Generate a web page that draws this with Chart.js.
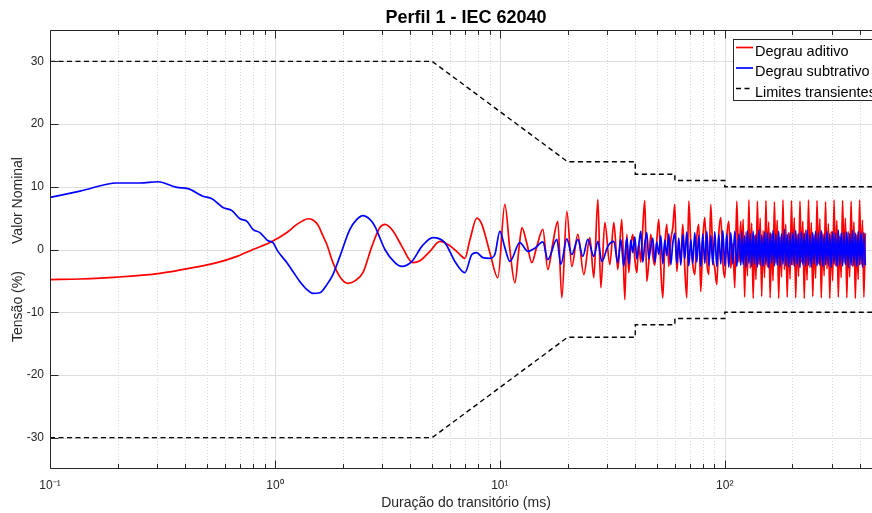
<!DOCTYPE html>
<html>
<head>
<meta charset="utf-8">
<script src="https://cdn.jsdelivr.net/npm/chart.js@4.4.0/dist/chart.umd.min.js"></script>
<style>
  html, body { margin: 0; padding: 0; background: #fff; width: 872px; height: 513px; overflow: hidden; }
  canvas { display: block; }
</style>
</head>
<body>
<canvas id="grafico" width="890" height="513"></canvas>
<script>
// Resposta ao degrau aditivo (tensão de saída, % do valor nominal)
const tAditivo = [0.1, 0.136, 0.2, 0.308, 0.432, 0.552, 0.678, 0.798, 0.95, 1.131,
  1.252, 1.332, 1.402, 1.475, 1.553, 1.634, 1.702, 1.811, 1.965, 2.11,
  2.268, 2.461, 2.698, 2.929, 3.083, 3.345, 3.668, 4.106, 4.41, 4.886,
  5.412, 5.995, 6.507, 6.988, 7.356, 7.9, 8.318, 9.03, 9.797, 10.525,
  11.08, 11.66, 12.15, 12.53, 13.18, 13.87, 14.6, 15.53, 16.34, 17.2,
  18.1, 18.86, 19.85, 20.89, 22.22, 23.62, 25.12, 26.17, 27.27, 28.11,
  29.29, 30.83, 32.12, 33.45, 34.85, 35.94];
const vAditivo = [-4.8, -4.7, -4.4, -3.8, -2.9, -2.1, -1.1, 0.0, 1.1, 2.7,
  4.0, 4.6, 4.9, 4.7, 3.9, 2.2, 0.8, -2.1, -4.6, -5.4,
  -5.0, -3.7, 0.5, 3.5, 4.0, 3.0, 0.5, -2.1, -1.8, -0.3,
  1.3, 0.6, -0.5, -1.4, 1.5, 5.0, 4.0, -0.5, -4.5, 7.2,
  0.0, -5.3, 0.0, 3.5, 1.0, -2.1, 0.5, 3.2, -3.2, 1.0,
  4.5, -7.7, 6.1, -2.7, 2.4, -4.0, 1.9, -4.5, 8.0, -6.1,
  4.3, -2.4, 4.3, -3.2, 4.8, -8.0];

// Resposta ao degrau subtrativo
const tSubtrativo = [0.1, 0.136, 0.1985, 0.251, 0.302, 0.3667, 0.4105, 0.4786, 0.5248, 0.5873,
  0.644, 0.6991, 0.7509, 0.798, 0.8577, 0.931, 0.9797, 1.031, 1.131, 1.202,
  1.29, 1.388, 1.475, 1.585, 1.702, 1.811, 1.945, 2.154, 2.314, 2.461,
  2.644, 2.783, 3.083, 3.415, 3.668, 4.064, 4.5, 5.037, 5.695, 6.31,
  6.988, 7.506, 7.876, 8.404, 9.03, 9.5, 10.0, 10.525, 11.08, 12.27,
  13.32, 14.31, 15.53, 16.34, 17.92, 18.67, 19.85, 20.89, 22.22, 23.38,
  24.61, 26.17, 27.27, 28.4, 30.2, 32.12, 33.45, 34.5, 35.57];
const vSubtrativo = [8.3, 9.3, 10.6, 10.6, 10.8, 9.9, 9.7, 8.5, 8.1, 6.7,
  6.2, 4.9, 4.5, 3.2, 2.7, 1.4, 1.1, -0.3, -2.1, -3.5,
  -5.1, -6.4, -7.0, -6.9, -5.6, -4.0, -1.1, 3.2, 4.8, 5.4,
  4.8, 3.7, 0.0, -2.1, -2.7, -1.9, 0.5, 1.9, 1.1, -1.9,
  -3.7, -0.8, -0.5, -1.3, -1.4, -0.8, 2.9, 0.3, -1.9, 1.1,
  -0.3, 0.2, 1.2, -1.6, 1.6, -2.4, 1.7, -0.8, 1.6, -1.1,
  1.6, -1.1, 1.3, -1.9, 0.5, 1.3, -2.1, 1.6, -2.7];

// Trecho de regime oscilatório (instantes comuns às duas respostas)
const tRegime = [36.68, 37.44, 38.21, 39.00, 39.81, 40.63, 41.47, 42.33, 43.20, 44.10,
  45.01, 45.94, 46.89, 47.86, 48.85, 49.86, 50.89, 51.94, 53.02, 54.11,
  55.23, 56.38, 57.54, 58.73, 59.95, 61.19, 62.45, 63.74, 65.06, 66.41,
  67.78, 69.18, 70.61, 72.07, 73.56, 75.09, 76.64, 78.22, 79.84, 81.49,
  83.18, 84.90, 86.65, 88.45, 90.28, 92.14, 94.05, 95.99, 97.98, 100.00,
  102.07, 104.18, 106.34, 108.54, 110.78, 113.07, 115.41, 117.80,
  119.0, 120.7, 122.5, 124.3, 126.1, 128.0, 129.8, 131.7, 133.7, 135.6,
  137.6, 139.6, 141.7, 143.7, 145.9, 148.0, 150.2, 152.4, 154.6, 156.8,
  159.1, 161.5, 163.8, 166.2, 168.7, 171.1, 173.6, 176.2, 178.8, 181.4,
  184.0, 186.7, 189.5, 192.2, 195.1, 197.9, 200.8, 203.7, 206.7, 209.8,
  212.8, 215.9, 219.1, 222.3, 225.6, 228.9, 232.2, 235.6, 239.1, 242.6,
  246.1, 249.7, 253.4, 257.1, 260.8, 264.7, 268.5, 272.5, 276.5, 280.5,
  284.6, 288.8, 293.0, 297.3, 301.7, 306.1, 310.5, 315.1, 319.7, 324.4,
  329.1, 334.0, 338.8, 343.8, 348.8, 353.9, 359.1, 364.4, 369.7, 375.1,
  380.6, 386.2, 391.8, 397.6, 403.4, 409.3, 415.3, 421.4];
const vAditivoRegime = [2.4, -3.7, 0.5, 2.4, -1.5, -3.7, 1.0, -2.0, 3.5, 7.8,
  -5.1, -2.0, 2.4, -1.0, -2.5, 1.5, 4.8, -3.0, -7.7, 0.5,
  4.0, -2.7, 1.5, 3.5, 7.2, -3.5, 0.5, -1.5, 4.0, -3.0,
  -7.7, 7.7, 1.0, -2.5, -4.0, 2.0, 4.0, -6.7, 1.5, 5.1,
  -2.0, -4.0, 7.2, -1.0, -3.0, -5.6, 2.5, 5.1, -2.0, -4.5,
  2.0, 4.5, -3.0, 1.0, -6.1, 7.7, -2.0, 4.5,
  -2.0, 4.8, -7.6, 2.8, -4.2, 7.9,
  -3.0, 4.2, -7.8, 2.2, -4.8, 7.7,
  -2.4, 5.0, -7.5, 3.0, -4.5, 7.8,
  -2.8, 4.4, -7.7, 2.5, -5.0, 7.6,
  -2.2, 4.7, -7.8, 2.0, -4.4, 7.9,
  -3.2, 4.0, -7.6, 2.7, -4.7, 7.8,
  -2.5, 5.1, -7.7, 2.4, -4.3, 7.7,
  -2.0, 4.5, -7.8, 3.1, -4.9, 7.9,
  -2.9, 4.3, -7.5, 2.3, -4.6, 7.8,
  -2.3, 4.9, -7.7, 2.6, -4.2, 7.6,
  -3.1, 4.1, -7.8, 2.9, -5.0, 7.9,
  -2.6, 4.6, -7.6, 2.1, -4.5, 7.8,
  -2.1, 5.0, -7.7, 2.8, -4.4, 7.7,
  -2.7, 4.4, -7.8, 2.4, -4.8, 7.9,
  -2.4, 4.7, -7.6, 2.6];
const vSubtrativoRegime = [1.9, -2.4, 1.5, -0.5, 2.0, -1.5, 0.8, 2.9, -2.0, 1.0,
  2.7, -1.5, 0.5, 1.8, -2.0, 1.2, -0.8, 2.2, -2.3, 1.5,
  -1.0, 2.5, -2.4, 1.0, 2.6, -2.2, 1.8, -2.5, 2.4, -1.5,
  2.8, -2.6, 1.6, -2.2, 2.7, -2.0, 2.3, -2.7, 2.5, -2.2,
  2.9, -2.6, 2.2, -2.4, 2.8, -2.7, 2.4, -2.3, 3.0, -2.6,
  2.5, -2.8, 2.7, -2.3, 2.9, -2.7, 2.4, -2.5,
  2.8, -2.4, 2.2, -2.8, 3.0, -2.2,
  2.5, -2.7, 2.9, -2.3, 2.4, -2.8,
  3.1, -2.5, 2.3, -2.6, 2.8, -2.4,
  2.6, -2.9, 2.7, -2.2, 3.0, -2.6,
  2.4, -2.5, 2.9, -2.7, 2.5, -2.3,
  3.2, -2.6, 2.4, -2.8, 2.7, -2.4,
  2.6, -2.7, 3.0, -2.3, 2.5, -2.9,
  2.8, -2.4, 2.6, -2.6, 3.1, -2.5,
  2.4, -2.8, 2.7, -2.3, 2.9, -2.6,
  2.6, -2.5, 3.0, -2.7, 2.4, -2.4,
  2.9, -2.6, 2.5, -2.8, 2.8, -2.3,
  2.5, -2.7, 3.1, -2.5, 2.6, -2.6,
  2.7, -2.4, 2.8, -2.9, 2.5, -2.5,
  3.0, -2.6, 2.6, -2.7, 2.9, -2.4,
  2.6, -2.8, 2.7, -2.5];

// Curva de tolerância IEC 62040 (Perfil 1)
const tLimite = [0.1, 5, 20, 40, 40, 60, 60, 100, 100, 500];
const vLimiteSup = [30, 30, 14, 14, 12, 12, 11, 11, 10, 10];
const vLimiteInf = [-30, -30, -14, -14, -12, -12, -11, -11, -10, -10];

// Eixos
const xTickValues = [0.1, 1, 10, 100];
const xTickLabels = ['10\u207B\u00B9', '10\u2070', '10\u00B9', '10\u00B2'];
const xMinorValues = [0.2, 0.3, 0.4, 0.5, 0.6, 0.7, 0.8, 0.9, 2, 3, 4, 5, 6, 7, 8, 9,
  20, 30, 40, 50, 60, 70, 80, 90, 200, 300, 400];
const yTickValues = [-30, -20, -10, 0, 10, 20, 30];

const titulo = 'Perfil 1 - IEC 62040';
const FONTE = '"Liberation Sans", Arial, Helvetica, sans-serif';
const COR_EIXO = '#262626';

const pares = (t, v) => t.map((x, i) => ({ x, y: v[i] }));

const eixosMatlab = {
  id: 'eixosMatlab',
  beforeDatasetsDraw(chart) {
    const { ctx, chartArea: a, scales: { x, y } } = chart;
    ctx.save();
    ctx.beginPath();
    ctx.rect(a.left, a.top, a.right - a.left, a.bottom - a.top);
    ctx.clip();
    ctx.lineWidth = 1;
    ctx.strokeStyle = '#d6d6d6';
    ctx.setLineDash([1, 2]);
    ctx.beginPath();
    xMinorValues.forEach(v => {
      const p = Math.round(x.getPixelForValue(v)) + 0.5;
      ctx.moveTo(p, a.top); ctx.lineTo(p, a.bottom);
    });
    ctx.stroke();
    ctx.setLineDash([]);
    ctx.strokeStyle = '#dedede';
    ctx.beginPath();
    xTickValues.forEach(v => {
      const p = Math.round(x.getPixelForValue(v)) + 0.5;
      ctx.moveTo(p, a.top); ctx.lineTo(p, a.bottom);
    });
    yTickValues.forEach(v => {
      const p = Math.round(y.getPixelForValue(v)) + 0.5;
      ctx.moveTo(a.left, p); ctx.lineTo(a.right, p);
    });
    ctx.stroke();
    ctx.restore();
  },
  afterDatasetsDraw(chart) {
    const { ctx, chartArea: a, scales: { x, y } } = chart;
    const L = Math.round(a.left) + 0.5, R = Math.round(a.right) - 0.5;
    const T = Math.round(a.top) + 0.5, B = Math.round(a.bottom) - 0.5;
    ctx.save();
    ctx.strokeStyle = COR_EIXO;
    ctx.lineWidth = 1;
    ctx.beginPath();
    ctx.moveTo(L, T); ctx.lineTo(R, T); ctx.lineTo(R, B); ctx.lineTo(L, B); ctx.closePath();
    const maior = 8, menor = 4.5;
    xTickValues.forEach(v => {
      const p = Math.round(x.getPixelForValue(v)) + 0.5;
      ctx.moveTo(p, B); ctx.lineTo(p, B - maior);
      ctx.moveTo(p, T); ctx.lineTo(p, T + maior);
    });
    xMinorValues.forEach(v => {
      const p = Math.round(x.getPixelForValue(v)) + 0.5;
      ctx.moveTo(p, B); ctx.lineTo(p, B - menor);
      ctx.moveTo(p, T); ctx.lineTo(p, T + menor);
    });
    yTickValues.forEach(v => {
      const p = Math.round(y.getPixelForValue(v)) + 0.5;
      ctx.moveTo(L, p); ctx.lineTo(L + maior, p);
      ctx.moveTo(R, p); ctx.lineTo(R - maior, p);
    });
    ctx.stroke();
    ctx.restore();
  },
  afterDraw(chart) {
    const { ctx, chartArea: a } = chart;
    ctx.save();
    // título
    ctx.fillStyle = '#000';
    ctx.font = 'bold 18px ' + FONTE;
    ctx.textAlign = 'center';
    ctx.textBaseline = 'alphabetic';
    ctx.fillText(titulo, (a.left + a.right) / 2, 23);

    // legenda
    const itens = chart.data.datasets.filter(d => d.naLegenda !== false);
    const bx = 733.5, by = 39.5, bw = 152, bh = 61;
    ctx.fillStyle = '#fff';
    ctx.fillRect(bx, by, bw, bh);
    ctx.strokeStyle = COR_EIXO;
    ctx.lineWidth = 1;
    ctx.strokeRect(bx, by, bw, bh);
    ctx.font = '14.5px ' + FONTE;
    ctx.textAlign = 'left';
    ctx.fillStyle = '#000';
    itens.forEach((d, i) => {
      const ly = 47.5 + i * 20.5;
      ctx.save();
      ctx.strokeStyle = d.borderColor;
      ctx.lineWidth = d.borderWidth;
      ctx.setLineDash(d.borderDash || []);
      ctx.beginPath();
      ctx.moveTo(736, ly); ctx.lineTo(753, ly);
      ctx.stroke();
      ctx.restore();
      ctx.fillText(d.label, 755, ly + 8);
    });
    ctx.restore();
  }
};

Chart.defaults.font.family = FONTE;
Chart.defaults.color = COR_EIXO;

new Chart(document.getElementById('grafico'), {
  type: 'line',
  data: {
    datasets: [
      {
        label: 'Degrau aditivo',
        data: pares(tAditivo, vAditivo).concat(pares(tRegime, vAditivoRegime)),
        borderColor: '#ff0000', borderWidth: 1.7,
        cubicInterpolationMode: 'monotone', pointRadius: 0, order: 3
      },
      {
        label: 'Degrau subtrativo',
        data: pares(tSubtrativo, vSubtrativo).concat(pares(tRegime, vSubtrativoRegime)),
        borderColor: '#0000ff', borderWidth: 1.7,
        cubicInterpolationMode: 'monotone', pointRadius: 0, order: 2
      },
      {
        label: 'Limites transientes',
        data: pares(tLimite, vLimiteSup),
        borderColor: '#000000', borderWidth: 1.4, borderDash: [5, 3.5],
        tension: 0, pointRadius: 0, order: 1
      },
      {
        label: 'Limites transientes',
        naLegenda: false,
        data: pares(tLimite, vLimiteInf),
        borderColor: '#000000', borderWidth: 1.4, borderDash: [5, 3.5],
        tension: 0, pointRadius: 0, order: 1
      }
    ]
  },
  options: {
    responsive: false,
    animation: false,
    events: [],
    layout: { padding: { top: 30, right: 8, left: 0, bottom: 0 } },
    plugins: { legend: { display: false }, tooltip: { enabled: false }, title: { display: false } },
    scales: {
      x: {
        type: 'logarithmic',
        min: 0.1, max: 500,
        afterBuildTicks: s => { s.ticks = xTickValues.map(v => ({ value: v, major: true })); },
        afterFit: s => { s.height = 44; },
        grid: { display: false, drawTicks: false },
        border: { display: false },
        ticks: {
          autoSkip: false, maxRotation: 0, padding: 9,
          color: COR_EIXO, font: { size: 12 },
          callback: (v, i) => xTickLabels[i]
        },
        title: {
          display: true, text: 'Duração do transitório (ms)',
          color: COR_EIXO, font: { size: 14 }, padding: { top: 0, bottom: 1.6 }
        }
      },
      y: {
        type: 'linear',
        min: -35, max: 35,
        afterBuildTicks: s => { s.ticks = yTickValues.map(v => ({ value: v })); },
        afterFit: s => { s.width = 50; },
        grid: { display: false, drawTicks: false },
        border: { display: false },
        ticks: { padding: 6, color: COR_EIXO, font: { size: 12 }, callback: v => String(v) },
        title: {
          display: true, text: 'Tensão (%)       Valor Nominal',
          color: COR_EIXO, font: { size: 14 }, padding: { top: 9.6, bottom: 0 }
        }
      }
    }
  },
  plugins: [eixosMatlab]
});
</script>
</body>
</html>
